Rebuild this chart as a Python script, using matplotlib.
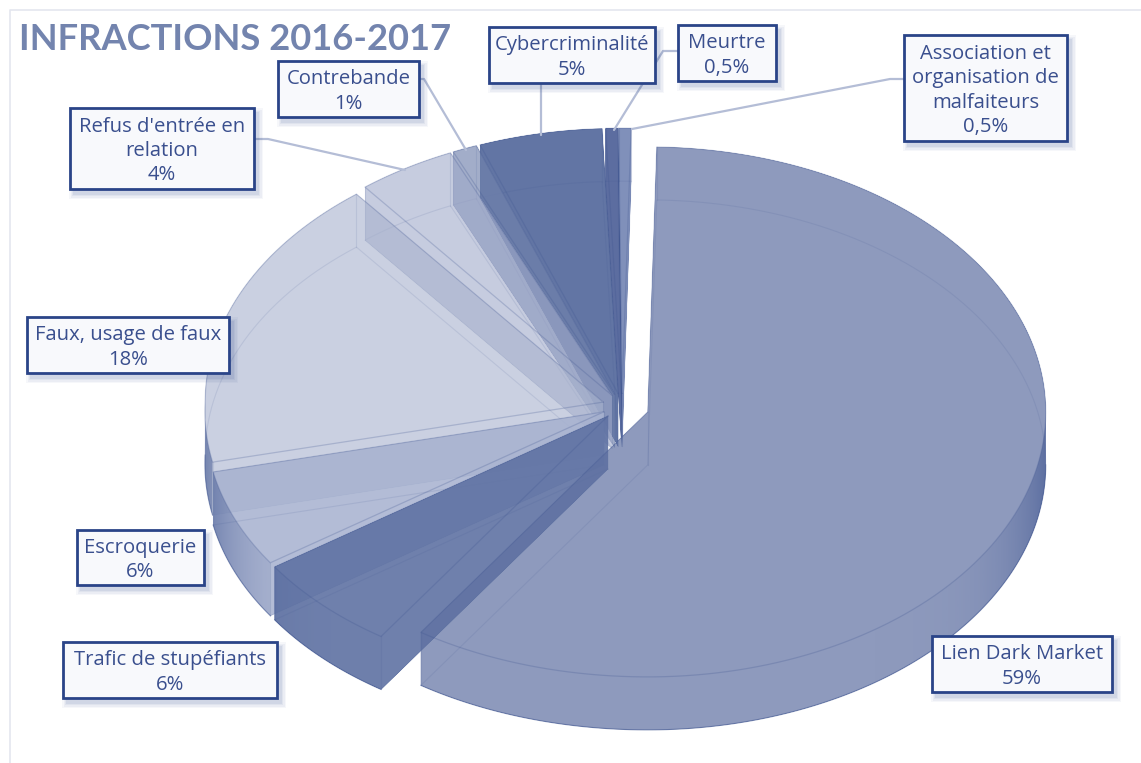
import numpy as np
import matplotlib
matplotlib.use("Agg")
import matplotlib.pyplot as plt
from matplotlib.path import Path
from matplotlib.patches import PathPatch, Rectangle

categories = ["Lien Dark Market", "Trafic de stupéfiants", "Escroquerie",
              "Faux, usage de faux", "Refus d'entrée en\nrelation", "Contrebande",
              "Cybercriminalité", "Meurtre", "Association et\norganisation de\nmalfaiteurs"]
values = [59, 6, 6, 18, 4, 1, 5, 0.5, 0.5]

# colour seen over white, and opacity of each slice
colors = ["#8E9BBD", "#6F80AC", "#B3BDD6", "#CBD1E1", "#C6CCDF",
          "#A3AECA", "#6375A4", "#5C6EA0", "#8090BA"]
alphas = [0.70, 0.90, 0.85, 0.60, 0.60, 0.65, 0.85, 0.85, 0.75]
explode = [27, 20, 20, 20, 20, 20, 20, 20, 20]

# label boxes: left, top, right, bottom
boxes = [(932, 636, 1112, 692), (63, 642, 277, 698), (77, 530, 204, 585),
         (27, 317, 229, 373), (70, 108, 254, 189), (278, 61, 419, 117),
         (489, 27, 655, 83), (678, 25, 776, 81), (904, 35, 1067, 141)]
leaders = [None, None, None, None,
           [(254, 139), (268, 139), (405, 170)],
           [(419, 79), (424, 79), (466, 150)],
           [(541, 83), (541, 135)],
           [(678, 51), (663, 51), (614, 130)],
           [(904, 79), (890, 79), (632, 129)]]

CX, CY = 622, 406.5
RX, RY = 398, 265
DEPTH = 53
START = 1.3
NEAR_WIDEN = 0.033
INK = "#3F5590"
BOX_EDGE = "#2A4488"
TEXT = "#3A4F8E"


def through(hex_color, alpha):
    rgb = np.array(matplotlib.colors.to_rgb(hex_color))
    return tuple(np.clip(1 - (1 - rgb) / alpha, 0, 1))


def rim(ax_, ay_, t):
    # front left quarter comes out a little wider, as with a perspective view
    widen = np.where((t > 180) & (t < 270), 1 - NEAR_WIDEN * np.cos(np.radians(t)), 1.0)
    t = np.radians(t)
    return np.column_stack([ax_ + RX * widen * np.sin(t), ay_ - RY * np.cos(t)])


def positive(poly):
    x, y = poly[:, 0], poly[:, 1]
    area = np.sum(x * np.roll(y, -1) - np.roll(x, -1) * y)
    return poly if area > 0 else poly[::-1]


def closed_path(polys):
    verts, codes = [], []
    for p in polys:
        p = positive(np.asarray(p))
        verts.extend(p)
        verts.append(p[0])
        codes.extend([Path.MOVETO] + [Path.LINETO] * (len(p) - 1) + [Path.CLOSEPOLY])
    return Path(np.array(verts), codes)


fig = plt.figure(figsize=(11.41, 7.63), dpi=100)
ax = fig.add_axes([0, 0, 1, 1])
ax.set_xlim(0, 1141)
ax.set_ylim(763, 0)
ax.axis("off")

# chart frame
ax.plot([10, 10, 1141], [763, 10, 10], color="#E4E6EF", lw=1.2, zorder=0)

edges = START + np.concatenate([[0], np.cumsum(values)]) * 3.6
down = np.array([0, DEPTH])

# back slices first, the big slice ends on top
for i in range(len(values) - 1, -1, -1):
    a0, a1 = edges[i], edges[i + 1]
    mid = np.radians((a0 + a1) / 2)
    px = CX + explode[i] * np.sin(mid)
    py = CY - explode[i] * np.cos(mid) * RY / RX
    arc = rim(px, py, np.linspace(a0, a1, max(int(a1 - a0) * 2, 8)))
    top = np.vstack([[px, py], arc])

    # top face, bottom face and every wall swept between them
    polys = [top, top + down]
    for p, q in zip(top, np.roll(top, -1, axis=0)):
        polys.append(np.array([p, q, q + down, p + down]))
    ax.add_patch(PathPatch(closed_path(polys), fc=through(colors[i], alphas[i]),
                           alpha=alphas[i], ec="none", zorder=2 + (8 - i) * 0.1))
    z = 2.05 + (8 - i) * 0.1

    # outer wall darkens towards the sides
    lo, hi = max(a0, 90), min(a1, 270)
    if hi > lo:
        r = rim(px, py, np.linspace(lo, hi, 120))
        wall = np.vstack([r, (r + down)[::-1]])
        grad = np.linspace(-1, 1, 800)
        shade = np.zeros((1, 800, 4))
        shade[..., :3] = matplotlib.colors.to_rgb(INK)
        shade[..., 3] = 0.6 * np.abs(grad) ** 9
        im = ax.imshow(shade, extent=(px - RX, px + RX, 763, 0), aspect="auto",
                       interpolation="bilinear", zorder=z)
        im.set_clip_path(PathPatch(closed_path([wall]), transform=ax.transData))
        ax.plot(*(r + down).T, color=INK, lw=0.8, alpha=0.45, zorder=z)

    # edges, faint on the far side
    ring = np.vstack([top, top[0]])
    ax.plot(*ring.T, color=INK, lw=0.9, alpha=0.25, zorder=z)
    ax.plot(*(ring + down).T, color=INK, lw=0.8, alpha=0.12, zorder=z)
    for p in (top[0], top[1], top[-1]):
        ax.plot([p[0], p[0]], [p[1], p[1] + DEPTH], color=INK, lw=0.8, alpha=0.12, zorder=z)

ax.set_xlim(0, 1141)
ax.set_ylim(763, 0)

# leader lines
for pts in leaders:
    if pts:
        ax.plot(*np.array(pts).T, color="#B4BDD6", lw=1.6, zorder=4, solid_capstyle="round")

# label boxes with a soft shadow
for name, v, (l, t, r, b) in zip(categories, values, boxes):
    for grow, a in ((5, 0.04), (3.5, 0.05), (2, 0.06), (1, 0.08)):
        ax.add_patch(Rectangle((l + 4 - grow, t + 5 - grow), r - l + 2 * grow, b - t + 2 * grow,
                               fc=BOX_EDGE, ec="none", alpha=a, zorder=5))
    ax.add_patch(Rectangle((l, t), r - l, b - t, fc="#F8F9FC", ec=BOX_EDGE, lw=2, zorder=6))
    label = name + "\n" + f"{v:g}".replace(".", ",") + "%"
    ax.text((l + r) / 2, (t + b) / 2 + 2.5, label, ha="center", va="center", color=TEXT,
            family="Open Sans", fontsize=14.6, linespacing=1.3, zorder=7)

ax.text(19, 39, "INFRACTIONS 2016-2017", color="#7384AE", family="Lato", weight="bold",
        fontsize=26.2, ha="left", va="center", zorder=7)

fig.savefig("out.png", dpi=100)
